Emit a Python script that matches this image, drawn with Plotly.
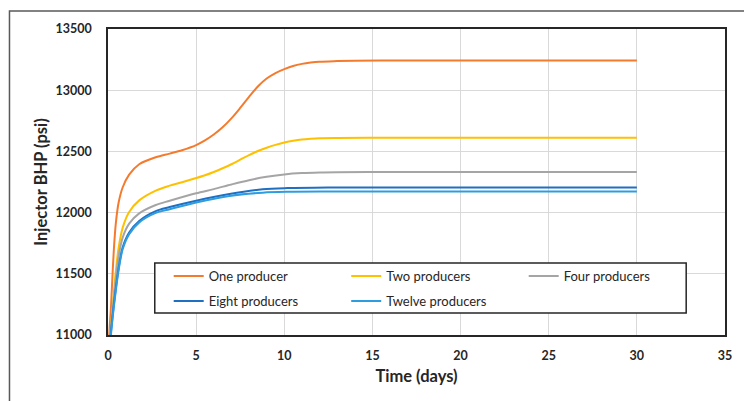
import plotly.graph_objects as go

# ---- data (first points lie just below the axis floor) ----
t_one = [0.03, 0.08, 0.17, 0.26, 0.36, 0.45, 0.6, 0.83, 1.2, 1.77, 2.71, 3.5, 4.2, 5, 5.5, 6, 6.5, 7,
         7.5, 8, 8.5, 9, 9.5, 10, 10.5, 11, 11.5, 12, 13, 14, 16, 20, 25, 30]
v_one = [10850, 11030, 11231, 11504, 11760, 11920, 12080, 12205, 12310, 12395, 12452, 12482, 12510,
         12552, 12590, 12638, 12697, 12770, 12855, 12945, 13030, 13095, 13140, 13172, 13198, 13215,
         13226, 13233, 13238, 13241, 13242, 13242, 13242, 13242]

t_two = [0.08, 0.17, 0.3, 0.45, 0.6, 0.83, 1.2, 1.77, 2.71, 3.5, 4.2, 5, 5.5, 6, 6.5, 7, 7.5, 8, 8.5,
         9, 9.5, 10, 10.5, 11, 11.5, 12, 13, 15, 20, 30]
v_two = [10900, 11068, 11286, 11531, 11710, 11875, 12005, 12100, 12180, 12220, 12248, 12282, 12305,
         12332, 12362, 12395, 12432, 12470, 12503, 12530, 12553, 12572, 12587, 12598, 12604, 12608,
         12610, 12611, 12612, 12612]

t_four = [0.1, 0.2, 0.3, 0.45, 0.6, 0.83, 1.2, 1.77, 2.71, 3.5, 5, 6, 7, 8, 9, 10, 11, 12, 13, 15, 20, 30]
v_four = [10950, 11110, 11259, 11470, 11640, 11795, 11910, 11994, 12062, 12097, 12158, 12192, 12230,
          12265, 12292, 12312, 12323, 12328, 12330, 12331, 12332, 12332]

t_eight = [0.12, 0.17, 0.3, 0.45, 0.6, 0.83, 1.2, 1.77, 2.71, 3.5, 5, 6.89, 8.77, 10.18, 12.53, 15, 30]
v_eight = [10950, 11030, 11210, 11390, 11545, 11715, 11838, 11932, 12012, 12045, 12097, 12152, 12190,
           12200, 12205, 12206, 12206]

t_twelve = [0.12, 0.17, 0.3, 0.45, 0.6, 0.83, 1.2, 1.77, 2.71, 3.5, 5, 6.89, 8.77, 10.18, 12.53, 15, 30]
v_twelve = [10930, 11010, 11190, 11370, 11528, 11700, 11824, 11920, 11998, 12028, 12082, 12136, 12163,
            12170, 12172, 12172, 12172]

series_names = ["One producer", "Two producers", "Four producers", "Eight producers", "Twelve producers"]
series_t = [t_one, t_two, t_four, t_eight, t_twelve]
series_v = [v_one, v_two, v_four, v_eight, v_twelve]
colors = ["#F47B2E", "#FFC000", "#A5A5A5", "#1F6FC2", "#2E9DE0"]
legend_ids = ["legend", "legend", "legend", "legend2", "legend2"]

x_ticks = [0, 5, 10, 15, 20, 25, 30, 35]
y_ticks = [11000, 11500, 12000, 12500, 13000, 13500]

FONT = "Lato"

fig = go.Figure()
for name, t, v, c, lg in zip(series_names, series_t, series_v, colors, legend_ids):
    fig.add_trace(go.Scatter(x=t, y=v, mode="lines", name=name,
                             line=dict(color=c, width=2, shape="spline", smoothing=0.9),
                             legend=lg))

W, H = 744, 401
L, R, T, B = 108, 728, 29, 335
pw, ph = R - L, B - T

def px(xp):
    return (xp - L) / pw

def py(yp):
    return (B - yp) / ph

legend_common = dict(orientation="h", xanchor="left", yanchor="middle",
                     bgcolor="rgba(0,0,0,0)", borderwidth=0,
                     entrywidth=132.5, entrywidthmode="pixels",
                     font=dict(family=FONT, size=13, color="#262626"),
                     itemclick=False, itemdoubleclick=False)

fig.update_layout(
    width=W, height=H,
    margin=dict(l=L, r=W - R, t=T, b=H - B, pad=0),
    paper_bgcolor="white", plot_bgcolor="white",
    font=dict(family=FONT, color="#262626"),
    showlegend=True,
    legend=dict(x=px(169), y=py(276), **legend_common),
    legend2=dict(x=px(169), y=py(301), **legend_common),
    xaxis=dict(range=[0, 35], tickvals=x_ticks, ticktext=[str(v) for v in x_ticks],
               showgrid=True, gridcolor="#D9D9D9", gridwidth=1, zeroline=False,
               showline=True, linecolor="#262626", linewidth=1.5, mirror=True,
               ticks="outside", ticklen=8, tickcolor="rgba(0,0,0,0)",
               tickfont=dict(family=FONT, size=12.5, color="#262626", weight="bold"),
               title=dict(text="<b>Time (days)</b>", font=dict(family=FONT, size=16.5, color="#262626"),
                          standoff=9)),
    yaxis=dict(range=[11000, 13500], tickvals=y_ticks, ticktext=[str(v) for v in y_ticks],
               showgrid=True, gridcolor="#D9D9D9", gridwidth=1, zeroline=False,
               showline=True, linecolor="#262626", linewidth=1.5, mirror=True,
               ticks="outside", ticklen=12, tickcolor="rgba(0,0,0,0)",
               tickfont=dict(family=FONT, size=12.5, color="#262626", weight="bold"),
               title=dict(text="<b>Injector BHP (psi)</b>", font=dict(family=FONT, size=16.5, color="#262626"),
                          standoff=4)),
    shapes=[
        # outer chart frame (only top/left edges visible in the crop)
        dict(type="rect", xref="paper", yref="paper",
             x0=px(9), x1=px(800), y0=py(460), y1=py(11),
             line=dict(color="#595959", width=1.5), fillcolor="rgba(0,0,0,0)", layer="above"),
        # legend box
        dict(type="rect", xref="paper", yref="paper",
             x0=px(155), x1=px(689), y0=py(313), y1=py(263),
             line=dict(color="#262626", width=1.5), fillcolor="white", layer="above"),
    ],
)

fig.write_html("out.html")
